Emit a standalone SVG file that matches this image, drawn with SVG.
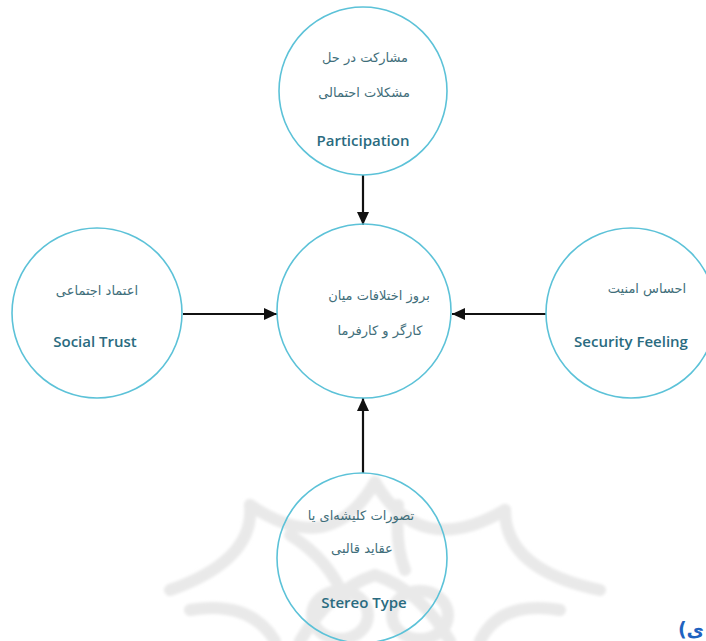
<svg xmlns="http://www.w3.org/2000/svg" width="706" height="641" viewBox="0 0 706 641">
  <defs>
    <style>
      .ring { fill: none; stroke: #5cc2d8; stroke-width: 1.6; }
      .fa { font-family: "DejaVu Sans", "Noto Sans", sans-serif; font-size: 13px; fill: #3f6e7a; text-anchor: middle; direction: rtl; }
      .en { font-family: "Open Sans", "Liberation Sans", sans-serif; font-weight: 600; font-size: 15px; fill: #2a6b80; text-anchor: middle; }
      .edge { stroke: #111; stroke-width: 2.2; fill: none; marker-end: url(#arrow); }
      .wm { fill: none; stroke: #e9e9e9; stroke-width: 12; stroke-linecap: round; }
    </style>
    <marker id="arrow" markerUnits="userSpaceOnUse" markerWidth="14" markerHeight="12" refX="13" refY="6" orient="auto">
      <path d="M0,0 L13,6 L0,12 z" fill="#111"/>
    </marker>
    <filter id="soft" x="-10%" y="-10%" width="120%" height="120%">
      <feGaussianBlur stdDeviation="1.5"/>
    </filter>
  </defs>

  <rect width="706" height="641" fill="#ffffff"/>

  <!-- faint ornamental background motif -->
  <g id="ornament" class="wm" filter="url(#soft)">
    <path d="M170,590 Q255,560 250,505"/>
    <path d="M250,505 Q330,560 375,482"/>
    <path d="M375,482 Q420,560 505,510"/>
    <path d="M505,510 Q505,570 600,590"/>
    <path d="M290,535 Q330,560 345,600"/>
    <path d="M398,505 Q395,545 405,570"/>
    <path d="M190,610 Q250,600 275,641"/>
    <path d="M560,610 Q500,600 480,641"/>
    <ellipse cx="340" cy="615" rx="28" ry="24"/>
    <ellipse cx="420" cy="615" rx="28" ry="24"/>
    <path d="M300,641 Q330,590 375,575 Q420,590 450,641"/>
  </g>

  <!-- connectors -->
  <g id="connectors">
    <line class="edge" x1="363" y1="175" x2="363" y2="225"/>
    <line class="edge" x1="183" y1="314" x2="277" y2="314"/>
    <line class="edge" x1="546" y1="314" x2="452" y2="314"/>
    <line class="edge" x1="363" y1="473" x2="363" y2="398"/>
  </g>

  <!-- nodes -->
  <g id="participation">
    <circle class="ring" cx="363" cy="91" r="84"/>
    <text class="fa" x="365" y="62">مشارکت در حل</text>
    <text class="fa" x="364" y="97">مشکلات احتمالی</text>
    <text class="en" x="363" y="146">Participation</text>
  </g>

  <g id="social-trust">
    <circle class="ring" cx="97" cy="313" r="85"/>
    <text class="fa" x="97" y="295">اعتماد اجتماعی</text>
    <text class="en" x="95" y="347">Social Trust</text>
  </g>

  <g id="conflict">
    <circle class="ring" cx="364" cy="311" r="87"/>
    <text class="fa" x="379" y="300">بروز اختلافات میان</text>
    <text class="fa" x="380" y="335">کارگر و کارفرما</text>
  </g>

  <g id="security-feeling">
    <circle class="ring" cx="631" cy="313" r="85"/>
    <text class="fa" x="647" y="293">احساس امنیت</text>
    <text class="en" x="631" y="347">Security Feeling</text>
  </g>

  <g id="stereotype">
    <circle class="ring" cx="362" cy="558" r="85"/>
    <text class="fa" x="361" y="520">تصورات کلیشه‌ای یا</text>
    <text class="fa" x="362" y="553">عقاید قالبی</text>
    <text class="en" x="364" y="608">Stereo Type</text>
  </g>

  <text x="704" y="636" direction="rtl" font-family="DejaVu Sans, sans-serif" font-weight="bold" font-size="19" fill="#1f63c0">ی)</text>
</svg>
